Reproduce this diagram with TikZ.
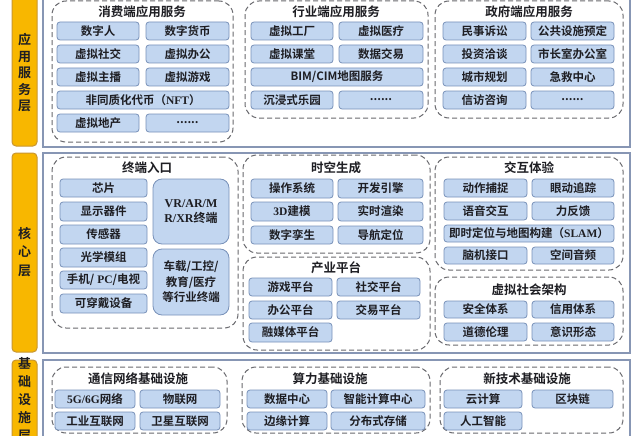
\documentclass[tikz,border=0pt]{standalone}
\usepackage{fontspec}
\setmainfont{Noto Sans CJK SC}[BoldFont={Noto Sans CJK SC Bold}]
\newfontfamily\tnr{Liberation Serif}
\definecolor{boxfill}{RGB}{194,214,240}
\definecolor{boxline}{RGB}{120,145,185}
\definecolor{grpline}{RGB}{105,105,110}
\definecolor{panline}{RGB}{135,150,180}
\definecolor{orfill}{RGB}{248,183,0}
\definecolor{orline}{RGB}{200,150,50}
\definecolor{txt}{RGB}{30,30,35}
\tikzset{
  bx/.style={draw=boxline,fill=boxfill,line width=0.8pt,rounded corners=3pt,inner sep=0pt,
    text=txt,font=\bfseries\fontsize{11.5}{13}\selectfont,align=center},
  grp/.style={draw=grpline,line width=1pt,dash pattern=on 5pt off 3pt,rounded corners=14pt,inner sep=0pt},
  ttl/.style={text=txt,font=\bfseries\fontsize{12.5}{14}\selectfont,inner sep=0pt},
  pan/.style={draw=panline,line width=1.5pt,fill=white,inner sep=0pt},
  orb/.style={draw=orline,fill=orfill,line width=1pt,rounded corners=4pt,inner sep=0pt},
  orl/.style={text=txt,font=\bfseries\fontsize{13}{16.5}\selectfont,align=center,inner sep=0pt},
}
% name, x1, y1, x2, y2, text
\newcommand\bxx[6]{\node[bx,minimum width={#4-#2},minimum height={#5-#3}] (#1) at ({(#2+#4)/2},{(#3+#5)/2}) {#6};}
\newcommand\grpp[5]{\node[grp,minimum width={#4-#2},minimum height={#5-#3}] (#1) at ({(#2+#4)/2},{(#3+#5)/2}) {};}
\newcommand\pann[5]{\node[pan,minimum width={#4-#2},minimum height={#5-#3}] (#1) at ({(#2+#4)/2},{(#3+#5)/2}) {};}
\newcommand\orbb[5]{\node[orb,minimum width={#4-#2},minimum height={#5-#3}] (#1) at ({(#2+#4)/2},{(#3+#5)/2}) {};}
\begin{document}
\begin{tikzpicture}[x=1pt,y=-1pt]
\useasboundingbox (0,0) rectangle (640,436);
\clip (0,0) rectangle (640,436);
\fill[white] (0,0) rectangle (640,436);
% panels
\pann{p1}{43}{-20}{630}{147}
\pann{p2}{43}{153}{630}{353}
\pann{p3}{43}{360}{630}{480}
% orange labels
\orbb{o1}{12}{-20}{37}{146}
\orbb{o2}{12}{153}{37}{352}
\orbb{o3}{12}{360}{37}{480}
\node[orl] (l1) at (24.5,73) {应\\用\\服\\务\\层};
\node[orl,font=\bfseries\fontsize{13}{18.5}\selectfont] (l2) at (24.5,252) {核\\心\\层};
\node[orl,font=\bfseries\fontsize{13}{18}\selectfont] (l3) at (24.5,400) {基\\础\\设\\施\\层};
% ===== top row
\grpp{g1}{52}{1}{233}{142}
\node[ttl] (t1) at (142,12) {消费端应用服务};
\bxx{a1}{57}{22}{139}{40}{数字人}
\bxx{a2}{146}{22}{229}{40}{数字货币}
\bxx{a3}{57}{45}{139}{63}{虚拟社交}
\bxx{a4}{146}{45}{229}{63}{虚拟办公}
\bxx{a5}{57}{68}{139}{86}{虚拟主播}
\bxx{a6}{146}{68}{229}{86}{虚拟游戏}
\bxx{a7}{57}{91}{229}{109}{非同质化代币（{\tnr NFT}）}
\bxx{a8}{57}{114}{139}{132}{虚拟地产}
\bxx{a9}{146}{114}{229}{132}{......}
\grpp{g2}{245}{1}{428}{118}
\node[ttl] (t2) at (336,12) {行业端应用服务};
\bxx{b1}{251}{22}{333}{40}{虚拟工厂}
\bxx{b2}{339}{22}{423}{40}{虚拟医疗}
\bxx{b3}{251}{45}{333}{63}{虚拟课堂}
\bxx{b4}{339}{45}{423}{63}{数据交易}
\bxx{b5}{251}{68}{423}{86}{BIM/CIM地图服务}
\bxx{b6}{251}{91}{333}{109}{沉浸式乐园}
\bxx{b7}{339}{91}{423}{109}{......}
\grpp{g3}{435}{1}{623}{118}
\node[ttl] (t3) at (529,12) {政府端应用服务};
\bxx{c1}{443}{22}{526}{40}{民事诉讼}
\bxx{c2}{531}{22}{614}{40}{公共设施预定}
\bxx{c3}{443}{45}{526}{63}{投资洽谈}
\bxx{c4}{531}{45}{614}{63}{市长室办公室}
\bxx{c5}{443}{68}{526}{86}{城市规划}
\bxx{c6}{531}{68}{614}{86}{急救中心}
\bxx{c7}{443}{91}{526}{109}{信访咨询}
\bxx{c8}{531}{91}{614}{109}{......}
% ===== middle row
\grpp{g4}{52}{157}{238}{328}
\node[ttl] (t4) at (147,168) {终端入口};
\bxx{d1}{60}{179}{147}{197}{芯片}
\bxx{d2}{60}{202}{147}{221}{显示器件}
\bxx{d3}{60}{225}{147}{244}{传感器}
\bxx{d4}{60}{248}{147}{267}{光学模组}
\bxx{d5}{60}{271}{147}{289}{手机/{\tnr\ PC}/电视}
\bxx{d6}{60}{294}{147}{313}{可穿戴设备}
\node[bx,rounded corners=9pt,minimum width=76,minimum height=65,font=\bfseries\fontsize{12}{15}\selectfont] (d7) at (191,211.5) {{\tnr VR/AR/M}\\{\tnr R/XR}终端};
\node[bx,rounded corners=9pt,minimum width=76,minimum height=66,font=\bfseries\fontsize{11.5}{15.5}\selectfont] (d8) at (191,282) {车载/工控/\\教育/医疗\\等行业终端};
\grpp{g5}{243}{155}{430}{253}
\node[ttl] (t5) at (336,168) {时空生成};
\bxx{e1}{251}{179}{333}{198}{操作系统}
\bxx{e2}{338}{179}{423}{198}{开发引擎}
\bxx{e3}{251}{202}{333}{221}{{\tnr 3D}建模}
\bxx{e4}{338}{202}{423}{221}{实时渲染}
\bxx{e5}{251}{226}{333}{244}{数字孪生}
\bxx{e6}{338}{226}{423}{244}{导航定位}
\grpp{g6}{243}{257}{430}{350}
\node[ttl] (t6) at (336,268) {产业平台};
\bxx{f1}{249}{278}{332}{296}{游戏平台}
\bxx{f2}{337}{278}{420}{296}{社交平台}
\bxx{f3}{249}{301}{332}{319}{办公平台}
\bxx{f4}{337}{301}{420}{319}{交易平台}
\bxx{f5}{249}{323}{332}{342}{融媒体平台}
\grpp{g7}{435}{157}{623}{270}
\node[ttl] (t7) at (529,168) {交互体验};
\bxx{h1}{444}{179}{527}{197}{动作捕捉}
\bxx{h2}{532}{179}{614}{197}{眼动追踪}
\bxx{h3}{444}{202}{527}{220}{语音交互}
\bxx{h4}{532}{202}{614}{220}{力反馈}
\bxx{h5}{444}{225}{614}{242}{即时定位与地图构建（{\tnr SLAM}）}
\bxx{h6}{444}{247}{527}{264}{脑机接口}
\bxx{h7}{532}{247}{614}{264}{空间音频}
\grpp{g8}{435}{277}{623}{345}
\node[ttl] (t8) at (529,290) {虚拟社会架构};
\bxx{i1}{444}{301}{527}{318}{安全体系}
\bxx{i2}{532}{301}{614}{318}{信用体系}
\bxx{i3}{444}{323}{527}{341}{道德伦理}
\bxx{i4}{532}{323}{614}{341}{意识形态}
% ===== bottom row
\grpp{g9}{52}{367}{227}{433}
\node[ttl] (t9) at (138,379) {通信网络基础设施};
\bxx{j1}{55}{390}{135}{408}{{\tnr 5G/6G}网络}
\bxx{j2}{140}{390}{220}{408}{物联网}
\bxx{j3}{55}{412}{135}{430}{工业互联网}
\bxx{j4}{140}{412}{220}{430}{卫星互联网}
\grpp{g10}{242}{367}{430}{433}
\node[ttl] (t10) at (330,379) {算力基础设施};
\bxx{k1}{247}{390}{327}{408}{数据中心}
\bxx{k2}{331}{390}{425}{408}{智能计算中心}
\bxx{k3}{247}{412}{327}{430}{边缘计算}
\bxx{k4}{331}{412}{425}{430}{分布式存储}
\grpp{g11}{440}{367}{623}{433}
\node[ttl] (t11) at (527,379) {新技术基础设施};
\bxx{m1}{444}{390}{522}{408}{云计算}
\bxx{m2}{532}{390}{613}{408}{区块链}
\bxx{m3}{444}{412}{522}{430}{人工智能}
\end{tikzpicture}
\end{document}
